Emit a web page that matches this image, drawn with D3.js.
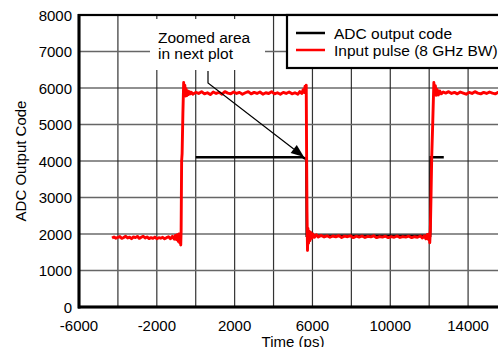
<!DOCTYPE html>
<html><head><meta charset="utf-8">
<script src="https://cdn.jsdelivr.net/npm/d3@7"></script>
<style>
html,body{margin:0;padding:0;background:#fff;overflow:hidden}
text{font-family:"Liberation Sans",Arial,sans-serif;fill:#000}
</style></head>
<body><svg id="chart" width="498" height="347"></svg>
<script>
// ---- data ----
const xTickLabels = [-6000, -2000, 2000, 6000, 10000, 14000];
const xGridValues = [-6000,-4000,-2000,0,2000,4000,6000,8000,10000,12000,14000,16000];
const yTickLabels = [0,1000,2000,3000,4000,5000,6000,7000,8000];
const seriesNames = ["ADC output code", "Input pulse (8 GHz BW)"];
const seriesColors = ["#000000", "#ff0000"];

// ADC output code: [time ps, code]
const adcOutput = [[0,4100],[5500,4100],[5690,4050],[5705,1950],[12050,1950],[12080,4100],[12750,4100]];

// Input pulse: [time ps, code]
const inputPulse = [
[-4300,1890],[-4200,1920],[-4100,1885],[-4000,1910],[-3900,1930],[-3800,1880],[-3700,1905],[-3600,1940],[-3500,1890],[-3400,1915],
[-3300,1870],[-3200,1920],[-3100,1900],[-3000,1935],[-2900,1880],[-2800,1910],[-2700,1940],[-2600,1890],[-2500,1920],[-2400,1875],
[-2300,1900],[-2200,1880],[-2100,1915],[-2000,1870],[-1900,1900],[-1800,1885],[-1700,1910],[-1600,1870],[-1500,1900],[-1400,1925],
[-1300,1870],[-1200,1935],[-1100,1860],[-1050,1960],[-1000,1850],[-950,1980],[-900,1800],[-860,2000],[-820,1760],[-790,1990],[-770,1700],
[-750,2100],[-725,4000],[-700,4200],[-660,5300],[-620,6150],[-590,5850],[-560,6080],[-530,5780],[-500,5980],[-460,5790],[-420,5920],
[-380,5820],[-330,5900],[-280,5840],[-220,5880],
[-150,5830],[0,5880],[150,5850],[300,5900],[450,5840],[600,5870],[750,5820],[900,5890],[1050,5850],[1200,5880],[1350,5830],[1500,5900],
[1650,5860],[1800,5840],[1950,5890],[2100,5850],[2250,5880],[2400,5830],[2550,5870],[2700,5900],[2850,5840],[3000,5880],[3150,5850],
[3300,5890],[3450,5830],[3600,5870],[3750,5850],[3900,5900],[4050,5840],[4200,5870],[4350,5830],[4500,5880],[4650,5850],[4800,5890],
[4950,5840],[5100,5870],[5250,5830],[5350,5900],[5450,5850],[5520,5950],[5580,5880],[5620,6050],[5660,5950],[5680,6080],
[5700,4100],[5720,2600],[5745,1550],[5770,2150],[5800,1750],[5830,2080],[5870,1820],[5910,2040],[5960,1880],[6020,2000],[6100,1910],
[6200,1980],[6300,1920],
[6450,1960],[6600,1920],[6750,1950],[6900,1910],[7050,1945],[7200,1920],[7350,1955],[7500,1905],[7650,1940],[7800,1925],[7950,1950],
[8100,1900],[8250,1940],[8400,1915],[8550,1945],[8700,1905],[8850,1935],[9000,1920],[9150,1950],[9300,1900],[9450,1930],[9600,1915],
[9750,1940],[9900,1900],[10050,1930],[10200,1910],[10350,1945],[10500,1905],[10650,1930],[10800,1915],[10950,1940],[11100,1900],
[11250,1925],[11400,1910],[11550,1945],[11650,1890],[11750,1950],[11830,1870],[11900,1990],[11960,1850],[12000,2000],[12030,1760],
[12060,2100],[12100,3200],[12130,4100],[12180,5000],[12240,6150],[12280,5880],[12320,6060],[12360,5800],[12410,5960],[12470,5810],
[12540,5920],[12620,5840],[12720,5890],
[12850,5860],[13000,5900],[13150,5850],[13300,5880],[13450,5840],[13600,5890],[13750,5860],[13900,5830],[14050,5880],[14200,5850],
[14350,5900],[14500,5860],[14650,5840],[14800,5880],[14950,5850],[15100,5890],[15250,5860],[15400,5840],[15550,5880],[15700,5850],
[15850,5870],[16000,5860]
];

// ---- layout ----
const L = 79, T = 15, R = 507, B = 307;
const svg = d3.select("#chart");
const x = d3.scaleLinear().domain([-6000, 16000]).range([L, R]);
const y = d3.scaleLinear().domain([0, 8000]).range([B, T]);

// gridlines
const grid = svg.append("g");
grid.selectAll("line.v").data(xGridValues).join("line")
  .attr("x1", d => x(d)).attr("x2", d => x(d)).attr("y1", T).attr("y2", B)
  .attr("stroke", "#333").attr("stroke-width", 1.2);
grid.selectAll("line.h").data(yTickLabels).join("line")
  .attr("x1", L).attr("x2", R).attr("y1", d => y(d)).attr("y2", d => y(d))
  .attr("stroke", d => (d % 2000 === 0) ? "#222" : "#666")
  .attr("stroke-width", d => (d % 2000 === 0) ? 1.1 : 1.5);

const line = d3.line().x(d => x(d[0])).y(d => y(d[1]));
svg.append("path").datum(adcOutput).attr("d", line)
  .attr("fill", "none").attr("stroke", seriesColors[0]).attr("stroke-width", 2.5);
svg.append("path").datum(inputPulse).attr("d", line)
  .attr("fill", "none").attr("stroke", seriesColors[1]).attr("stroke-width", 2.9)
  .attr("stroke-linejoin", "round");

// annotation
svg.append("rect").attr("x", 150).attr("y", 19).attr("width", 115).attr("height", 51).attr("fill", "#fff");
svg.append("text").attr("x", 158).attr("y", 43).attr("font-size", 15.5).text("Zoomed area");
svg.append("text").attr("x", 158).attr("y", 59).attr("font-size", 15.5).text("in next plot");
const kx = 208, ky = 83, tipX = 304, tipY = 157;
const dx = tipX - kx, dy = tipY - ky, len = Math.hypot(dx, dy), ux = dx / len, uy = dy / len;
const aL = 13, aW = 5;
const bx = tipX - aL * ux, by = tipY - aL * uy;
svg.append("path").attr("d", `M${kx},71 L${kx},${ky} L${bx},${by}`)
  .attr("fill", "none").attr("stroke", "#000").attr("stroke-width", 1.2);
svg.append("path").attr("d", `M${tipX},${tipY} L${bx - aW*uy},${by + aW*ux} L${bx + aW*uy},${by - aW*ux} Z`)
  .attr("fill", "#000");

// frame
svg.append("rect").attr("x", L).attr("y", T).attr("width", R - L).attr("height", B - T)
  .attr("fill", "none").attr("stroke", "#000").attr("stroke-width", 2.2);
svg.append("line").attr("x1", L).attr("x2", L).attr("y1", T - 1).attr("y2", B + 1.5).attr("stroke", "#000").attr("stroke-width", 3);
svg.append("line").attr("x1", L - 1).attr("x2", R).attr("y1", B).attr("y2", B).attr("stroke", "#000").attr("stroke-width", 3);

// legend
const lg = svg.append("g");
lg.append("rect").attr("x", 287).attr("y", 15).attr("width", 230).attr("height", 53)
  .attr("fill", "#fff").attr("stroke", "#000").attr("stroke-width", 2.2);
seriesNames.forEach((n, i) => {
  const yy = 33 + i * 17;
  lg.append("line").attr("x1", 296).attr("x2", 325).attr("y1", yy).attr("y2", yy)
    .attr("stroke", seriesColors[i]).attr("stroke-width", 2.5);
  lg.append("text").attr("x", 334).attr("y", yy + 5.5).attr("font-size", 15.5).text(n);
});

// tick labels
svg.append("g").selectAll("text").data(xTickLabels).join("text")
  .attr("x", d => x(d)).attr("y", 331).attr("text-anchor", "middle").attr("font-size", 15).text(d => d);
svg.append("g").selectAll("text").data(yTickLabels).join("text")
  .attr("x", 72).attr("y", d => y(d) + 5.5).attr("text-anchor", "end").attr("font-size", 15).text(d => d);

// axis titles
svg.append("text").attr("x", (L + R) / 2).attr("y", 347).attr("text-anchor", "middle").attr("font-size", 15).text("Time (ps)");
svg.append("text").attr("transform", `translate(26,${(T + B) / 2}) rotate(-90)`)
  .attr("text-anchor", "middle").attr("font-size", 15).text("ADC Output Code");
</script></body></html>
